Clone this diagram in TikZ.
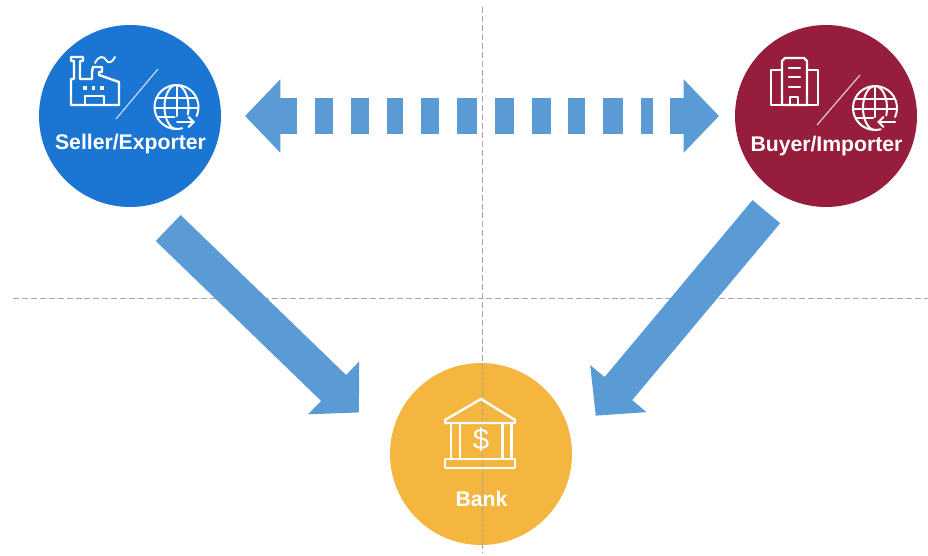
\documentclass[tikz,border=0pt]{standalone}
\usepackage{fontspec}
\setmainfont{Liberation Sans}
\usetikzlibrary{positioning,arrows.meta}

\definecolor{sellerblue}{HTML}{1B75D2}
\definecolor{buyerred}{HTML}{971D3D}
\definecolor{bankamber}{HTML}{F4B63F}
\definecolor{flowblue}{HTML}{5B9BD5}
\definecolor{axisgrey}{HTML}{A6A6A6}

\tikzset{
  party/.style={circle,minimum size=136.5pt,inner sep=0pt},
  partylabel/.style={text=white,font=\fontsize{15.9}{18}\selectfont\bfseries},
  bigarrow/.style={flowblue,line width=27pt,-{Triangle[length=26.5pt,width=53.5pt]}},
  axisline/.style={axisgrey,line width=0.7pt,dash pattern=on 4.5pt off 2.2pt},
  icon/.style={white,line width=1.8pt,line join=round,line cap=round},
  iconslash/.style={white,opacity=0.75,line width=0.9pt}
}

\newcommand{\globeicon}[1]{
  \begin{scope}[shift={#1},icon,line width=1.5pt]
    \draw (20.1,8.95) arc[start angle=24,end angle=-285,radius=22];
    \draw (0,-22) arc[start angle=-90,end angle=-270,x radius=12,y radius=22];
    \draw (0,-22) arc[start angle=-90,end angle=20,x radius=12,y radius=22];
    \draw (0,-22) -- (0,9);
    \draw (-19,-9) -- (19,-9);
    \draw (-22,1) -- (21,1);
    \draw (-19,10) -- (-2,10);
  \end{scope}
}

\begin{document}
\begin{tikzpicture}[x=0.75pt,y=-0.75pt]

  \useasboundingbox (0,0) rectangle (928,556);

  \coordinate (hl) at (13,298);
  \coordinate (hr) at (928,298);
  \coordinate (vt) at (482,7);
  \coordinate (vb) at (482,552);
  \path[axisline,draw] (hl) -- (hr);

  % dotted double arrow
  \coordinate (dl0) at (297,116);
  \coordinate (dl1) at (245,116);
  \coordinate (dr0) at (670,116);
  \coordinate (dr1) at (719,116);
  \path[bigarrow] (dl0) edge (dl1);
  \path[bigarrow] (dr0) edge (dr1);
  \foreach \xa/\xb in {315/333,351/369,387/403,421/439,457/477,495/514,532/551,568/585,603/623,641/653}
    \fill[flowblue] (\xa,98) rectangle (\xb,134);

  % arrows to the bank
  \coordinate (s0) at (168.2,228);
  \coordinate (s1) at (359,412.5);
  \coordinate (b0) at (766.3,211.7);
  \coordinate (b1) at (595.7,415.7);
  \path[bigarrow] (s0) edge (s1);
  \path[bigarrow] (b0) edge (b1);

  \node[party,fill=sellerblue] (seller) at (130,116) {};
  \node[party,fill=buyerred] (buyer) at (826,116) {};
  \node[party,fill=bankamber] (bank) at (481,454) {};

  \path[axisline,draw] (vt) -- (vb);

  % factory
  \draw[icon] (71,105) -- (71,79) -- (74,79) -- (74,61) -- (71,61) -- (71,57) -- (83,57) -- (83,61) -- (80,61)
    -- (80,79) -- (92,79) -- (92,72) -- (93,67) -- (102,67) -- (102,72) -- (99,72) -- (99,75) -- (119,82) -- (119,105) -- cycle;
  \draw[icon] (85,105) -- (85,96) -- (104,96) -- (104,105);
  \foreach \xa in {85,93.5,102}
    \fill[white] (\xa-1.8,86.2) rectangle (\xa+1.8,89.8);
  \draw[icon,line width=1.4pt] (95,63) .. controls (99,55) and (104,56) .. (106,60) .. controls (108,64) and (112,63) .. (115,57);

  % buyer building
  \draw[icon] (782,105) -- (782,61) -- (785,58) -- (804,58) -- (807,61) -- (807,105) -- cycle;
  \draw[icon] (782,70) -- (771,70) -- (771,105) -- (782,105);
  \draw[icon] (807,70) -- (818,70) -- (818,105) -- (807,105);
  \foreach \ya in {68,77,87}
    \draw[icon] (789,\ya) -- (800,\ya);
  \draw[icon] (790,105) -- (790,97) -- (798,97) -- (798,105);

  \draw[iconslash] (116,119) -- (158,69);
  \draw[iconslash] (817,125) -- (860,75);

  \globeicon{(176.5,107)}
  \globeicon{(875,108)}
  \draw[icon,line width=1.5pt,-{Straight Barb[length=4pt,width=8pt]}] (177,122) -- (195,122);
  \draw[icon,line width=1.5pt,-{Straight Barb[length=4pt,width=8pt]}] (895,122) -- (877,122);

  % bank building
  \draw[icon] (445,420) -- (481,399) -- (515,420) -- (515,423) -- (445,423) -- cycle;
  \foreach \xa in {451,460,502.5,511.5}
    \draw[icon] (\xa,423) -- (\xa,459);
  \draw[icon] (445,459) rectangle (515,468);
  \node[text=white,font=\fontsize{22}{23}\selectfont] (dollar) at (481,440) {\$};

  \node[partylabel] (sellerlabel) at (130.5,144.5) {Seller/Exporter};
  \node[partylabel] (buyerlabel) at (826.5,146.5) {Buyer/Importer};
  \node[partylabel] (banklabel) at (481.5,499) {Bank};

\end{tikzpicture}
\end{document}
